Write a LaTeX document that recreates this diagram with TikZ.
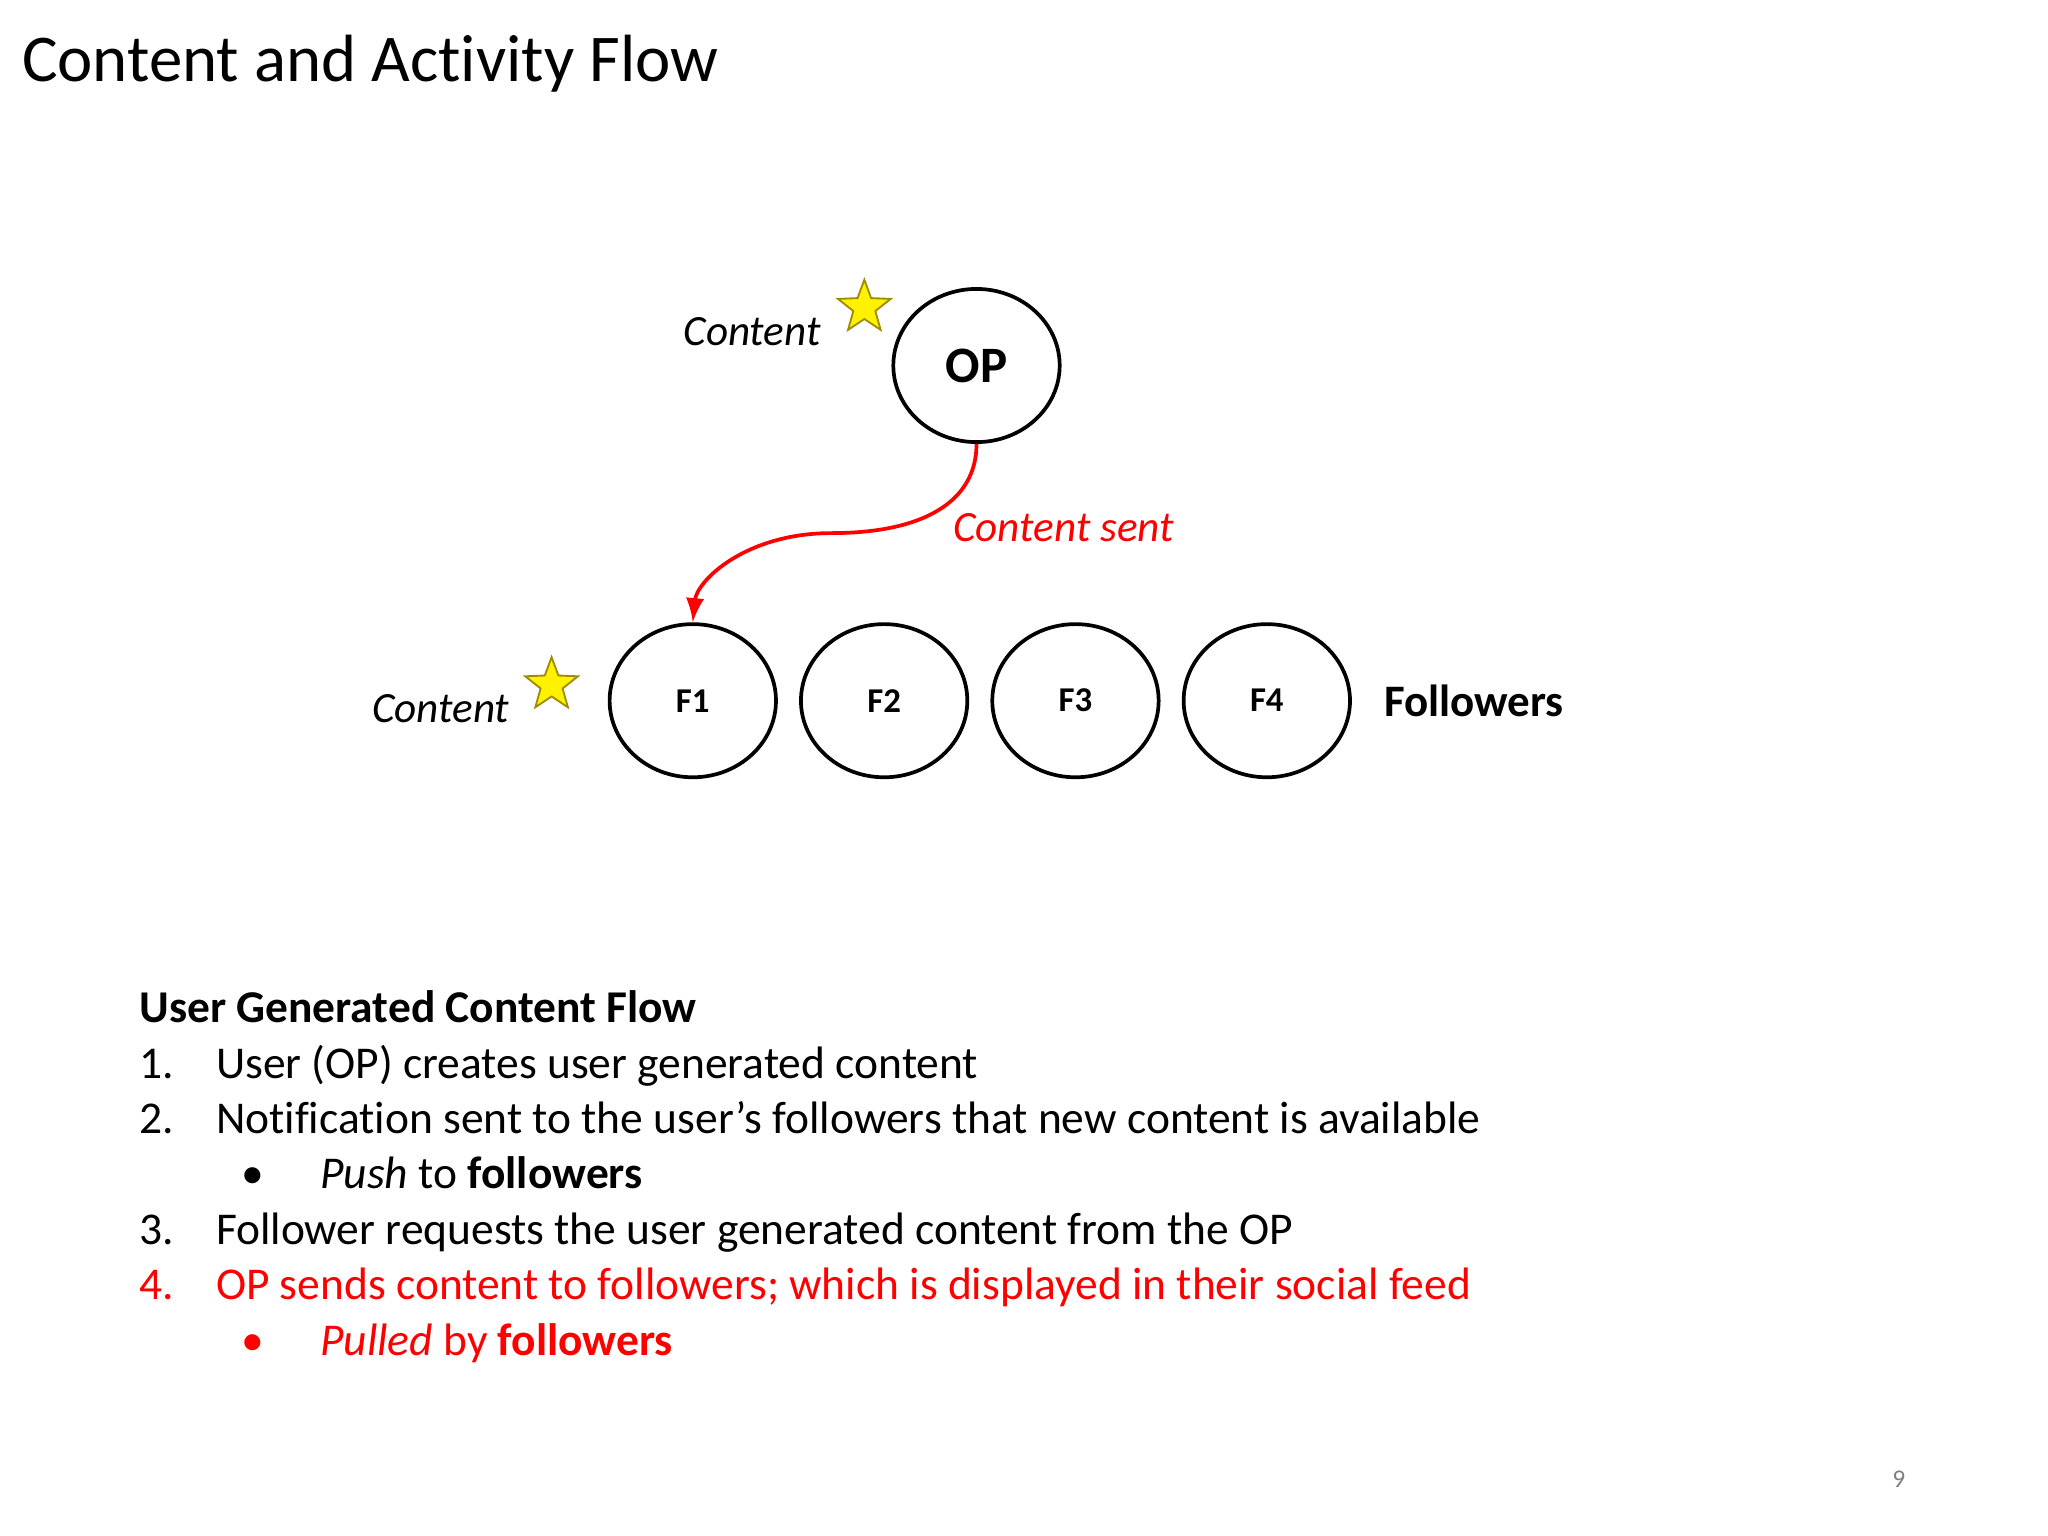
\documentclass[tikz,border=0pt]{standalone}
\usepackage{fontspec}
\setmainfont{Carlito}[Ligatures={NoCommon}]
\usetikzlibrary{shapes.geometric}
\definecolor{starline}{RGB}{160,140,0}
\tikzset{
  user/.style={draw, thick, ellipse, minimum width=1.26cm, minimum height=1.16cm, font=\bfseries\fontsize{7.5}{9}\selectfont},
  star mark/.style={star, star points=5, star point ratio=2.4, draw=starline, fill=yellow, minimum size=0.42cm, inner sep=0pt},
  txt/.style={anchor=base west, inner sep=0pt, font=\fontsize{9.8}{12}\selectfont},
}
\begin{document}
\begin{tikzpicture}[x=0.01cm, y=-0.01cm]
    \useasboundingbox (0,0) rectangle (1552,1164);
    \node[anchor=base west, inner sep=0pt, font=\fontsize{14.4}{17}\selectfont] (title) at (16,62) {Content and Activity Flow};

    % Nodes
    \node[user, font=\bfseries\fontsize{11}{13}\selectfont] (op) at (740,277) {OP};
    \foreach \n [count=\i] in {525,670,815,960}
        \node[user] (f\i) at (\n,531) {F\i};
    \node[star mark] (s1) at (655,233) {};
    \node[star mark] (s2) at (418,519) {};
    \node[font=\itshape\fontsize{9.3}{11}\selectfont] (c1) at (570,251) {Content};
    \node[font=\itshape\fontsize{9.3}{11}\selectfont] (c2) at (334,537) {Content};
    \node[font=\bfseries\fontsize{9.7}{12}\selectfont] (fol) at (1117,531) {Followers};

    % Content sent
    \draw[red, thick, -latex] (op.south) .. controls (740,380) and (700,404) .. (630,404)
        .. controls (565,404) and (528,440) .. (f1.north);
    \node[red, font=\itshape\fontsize{9.3}{11}\selectfont] (sent) at (806,400) {Content sent};

    % Description
    \node[txt, font=\bfseries\fontsize{9.8}{12}\selectfont] (head) at (105,775) {User Generated Content Flow};
    \node[txt] (n1) at (105,817) {1.};
    \node[txt] (t1) at (163,817) {User (OP) creates user generated content};
    \node[txt] (n2) at (105,859) {2.};
    \node[txt] (t2) at (163,859) {Notification sent to the user’s followers that new content is available};
    \node[txt] (b1) at (182,901) {\textbullet};
    \node[txt] (u1) at (242,901) {\textit{Push} to \textbf{followers}};
    \node[txt] (n3) at (105,943) {3.};
    \node[txt] (t3) at (163,943) {Follower requests the user generated content from the OP};
    \node[txt, red] (n4) at (105,985) {4.};
    \node[txt, red] (t4) at (163,985) {OP sends content to followers; which is displayed in their social feed};
    \node[txt, red] (b2) at (182,1027) {\textbullet};
    \node[txt, red] (u2) at (242,1027) {\textit{Pulled} by \textbf{followers}};

    \node[gray, font=\fontsize{5.5}{7}\selectfont] (page) at (1439,1121) {9};
\end{tikzpicture}
\end{document}
